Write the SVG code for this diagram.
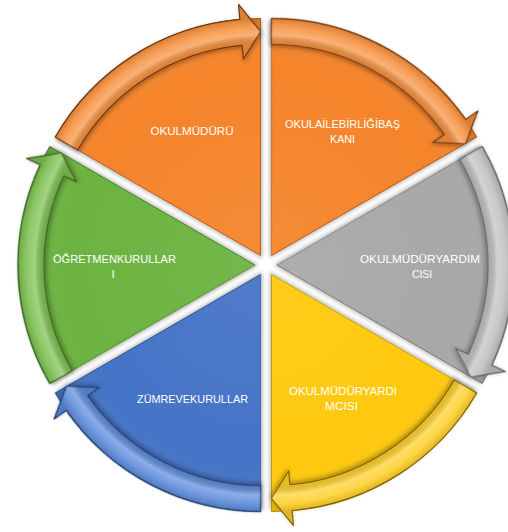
<svg xmlns="http://www.w3.org/2000/svg" xmlns:xlink="http://www.w3.org/1999/xlink" width="508" height="532" viewBox="0 0 508 532">
<style>
.lbl{fill:#fff;font-family:"Liberation Sans","Open Sans",sans-serif;font-size:11.5px;text-anchor:middle}
.w{stroke-width:1}
.b{stroke-width:1.2;stroke-linejoin:round}
.or .w{fill:#F5842B;stroke:#B65A17}
.or .b{fill:#F7913C;stroke:#7A3B10}
.gr .w{fill:#A8A8A8;stroke:#7A7A7A}
.gr .b{fill:#C0C0C0;stroke:#666}
.ye .w{fill:#FFC90E;stroke:#C99A00}
.ye .b{fill:#FFD02A;stroke:#8A6A00}
.bl .w{fill:#4573C6;stroke:#2F528F}
.bl .b{fill:#5B8BDB;stroke:#23406F}
.gn .w{fill:#6CB33F;stroke:#4A7F2A}
.gn .b{fill:#7CC04F;stroke:#3B6621}
.ws{fill:url(#wShade);stroke:none}
.bs{fill:url(#bShade);stroke:none}
</style>
<defs>
<filter id="sh" x="-15%" y="-15%" width="130%" height="130%">
<feDropShadow dx="1" dy="2" stdDeviation="2.2" flood-color="#000" flood-opacity="0.3"/>
</filter>
<radialGradient id="wShade" gradientUnits="userSpaceOnUse" cx="260.5" cy="255.5" r="237">
<stop offset="0" stop-color="#fff" stop-opacity="0.06"/>
<stop offset="0.8" stop-color="#fff" stop-opacity="0"/>
<stop offset="1" stop-color="#000" stop-opacity="0.12"/>
</radialGradient>
<radialGradient id="bShade" gradientUnits="userSpaceOnUse" cx="260.5" cy="255.5" r="237">
<stop offset="0.83" stop-color="#000" stop-opacity="0.12"/>
<stop offset="0.89" stop-color="#000" stop-opacity="0.1"/>
<stop offset="0.93" stop-color="#fff" stop-opacity="0.3"/>
<stop offset="0.965" stop-color="#fff" stop-opacity="0.12"/>
<stop offset="1" stop-color="#000" stop-opacity="0.12"/>
</radialGradient>
<path id="wedge" d="M260.5,255.5 L55.3,137 A237,237 0 0 1 260.5,18.5 Z"/>
<path id="band" d="M55.3,137 A237,237 0 0 1 239.84,19.4 L238.54,4.46 L260.5,31.5 L243.33,59.25 L242.11,45.3 A211,211 0 0 0 77.77,150 Z"/>
</defs>

<g id="nodes">
<g id="node-okulmuduru" class="or">
<use xlink:href="#wedge" href="#wedge" class="w" filter="url(#sh)"/>
<use xlink:href="#wedge" href="#wedge" class="ws"/>
<text class="lbl" x="192" y="135" textLength="83" lengthAdjust="spacingAndGlyphs">OKULMÜDÜRÜ</text>
</g>
<g id="node-okulaile" class="or">
<g transform="rotate(60 266 265)">
<use xlink:href="#wedge" href="#wedge" class="w" filter="url(#sh)"/>
<use xlink:href="#wedge" href="#wedge" class="ws"/>
</g>
<text class="lbl" x="342.5" y="128" textLength="115" lengthAdjust="spacingAndGlyphs">OKULAİLEBİRLİĞİBAŞ</text>
<text class="lbl" x="342.5" y="143" textLength="25" lengthAdjust="spacingAndGlyphs">KANI</text>
</g>
<g id="node-yardimcisi1" class="gr">
<g transform="rotate(120 266 265)">
<use xlink:href="#wedge" href="#wedge" class="w" filter="url(#sh)"/>
<use xlink:href="#wedge" href="#wedge" class="ws"/>
</g>
<text class="lbl" x="420" y="262.5" textLength="120" lengthAdjust="spacingAndGlyphs">OKULMÜDÜRYARDIM</text>
<text class="lbl" x="422" y="277.5" textLength="20" lengthAdjust="spacingAndGlyphs">CISI</text>
</g>
<g id="node-yardimcisi2" class="ye">
<g transform="rotate(180 266 265)">
<use xlink:href="#wedge" href="#wedge" class="w" filter="url(#sh)"/>
<use xlink:href="#wedge" href="#wedge" class="ws"/>
</g>
<text class="lbl" x="343" y="395" textLength="108" lengthAdjust="spacingAndGlyphs">OKULMÜDÜRYARDI</text>
<text class="lbl" x="341.5" y="410" textLength="33" lengthAdjust="spacingAndGlyphs">MCISI</text>
</g>
<g id="node-zumre" class="bl">
<g transform="rotate(240 266 265)">
<use xlink:href="#wedge" href="#wedge" class="w" filter="url(#sh)"/>
<use xlink:href="#wedge" href="#wedge" class="ws"/>
</g>
<text class="lbl" x="192.5" y="403" textLength="111" lengthAdjust="spacingAndGlyphs">ZÜMREVEKURULLAR</text>
</g>
<g id="node-ogretmen" class="gn">
<g transform="rotate(300 266 265)">
<use xlink:href="#wedge" href="#wedge" class="w" filter="url(#sh)"/>
<use xlink:href="#wedge" href="#wedge" class="ws"/>
</g>
<text class="lbl" x="114.5" y="262.5" textLength="123" lengthAdjust="spacingAndGlyphs">ÖĞRETMENKURULLAR</text>
<text class="lbl" x="113" y="277.5">I</text>
</g>
</g>

<g id="connectors">
<g class="or"><use xlink:href="#band" href="#band" class="b" filter="url(#sh)"/><use xlink:href="#band" href="#band" class="bs"/></g>
<g class="or" transform="rotate(60 266 265)"><use xlink:href="#band" href="#band" class="b" filter="url(#sh)"/><use xlink:href="#band" href="#band" class="bs"/></g>
<g class="gr" transform="rotate(120 266 265)"><use xlink:href="#band" href="#band" class="b" filter="url(#sh)"/><use xlink:href="#band" href="#band" class="bs"/></g>
<g class="ye" transform="rotate(180 266 265)"><use xlink:href="#band" href="#band" class="b" filter="url(#sh)"/><use xlink:href="#band" href="#band" class="bs"/></g>
<g class="bl" transform="rotate(240 266 265)"><use xlink:href="#band" href="#band" class="b" filter="url(#sh)"/><use xlink:href="#band" href="#band" class="bs"/></g>
<g class="gn" transform="rotate(300 266 265)"><use xlink:href="#band" href="#band" class="b" filter="url(#sh)"/><use xlink:href="#band" href="#band" class="bs"/></g>
</g>
</svg>
